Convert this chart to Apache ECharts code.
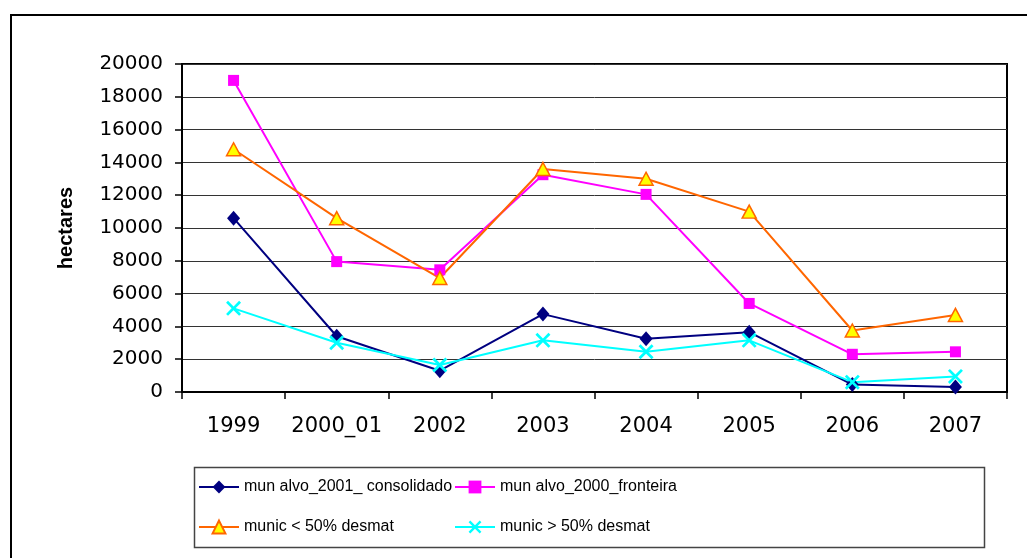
<!DOCTYPE html>
<html>
<head>
<meta charset="utf-8">
<script src="https://cdn.jsdelivr.net/npm/echarts@6/dist/echarts.min.js"></script>
<style>
html,body{margin:0;padding:0;background:#fff;}
#chart{width:1027px;height:558px;}
</style>
</head>
<body>
<div id="chart"></div>
<script>
var categories = ['1999', '2000_01', '2002', '2003', '2004', '2005', '2006', '2007'];
var yTicks = [0, 2000, 4000, 6000, 8000, 10000, 12000, 14000, 16000, 18000, 20000];
var seriesNames = ['mun alvo_2001_ consolidado', 'mun alvo_2000_fronteira', 'munic < 50% desmat', 'munic > 50% desmat'];
var consolidado = [10600, 3400, 1300, 4750, 3250, 3650, 450, 300];
var fronteira = [19000, 7950, 7450, 13250, 12050, 5400, 2300, 2450];
var menos50 = [14800, 10600, 6950, 13600, 13000, 11000, 3750, 4700];
var mais50 = [5100, 3000, 1650, 3150, 2450, 3150, 600, 950];

var xPath = 'path://M0,1.3 L1.3,0 L5,3.7 L8.7,0 L10,1.3 L6.3,5 L10,8.7 L8.7,10 L5,6.3 L1.3,10 L0,8.7 L3.7,5 Z';
var FONT = 'DejaVu Sans';
var LFONT = '"Liberation Sans", Arial';

var chart = echarts.init(document.getElementById('chart'), null, {renderer: 'canvas'});
chart.setOption({
  animation: false,
  backgroundColor: '#fff',
  graphic: [
    {type: 'rect', z: -10, shape: {x: 11, y: 15, width: 1200, height: 700},
     style: {fill: 'none', stroke: '#000', lineWidth: 2}},
    {type: 'rect', z: -5, shape: {x: 194.5, y: 467.5, width: 790, height: 80},
     style: {fill: '#fff', stroke: '#444', lineWidth: 1.5}}
  ],
  grid: {left: 182, top: 64, right: 20, bottom: 166, show: true, borderColor: '#000', borderWidth: 2, backgroundColor: 'transparent'},
  legend: [
    {data: [seriesNames[0], seriesNames[2]], orient: 'vertical', left: 193, top: 474, itemWidth: 40, itemHeight: 16, itemGap: 24,
     textStyle: {fontFamily: LFONT, fontSize: 16, color: '#000'}, z: 10},
    {data: [seriesNames[1], seriesNames[3]], orient: 'vertical', left: 449, top: 474, itemWidth: 40, itemHeight: 16, itemGap: 24,
     textStyle: {fontFamily: LFONT, fontSize: 16, color: '#000'}, z: 10}
  ],
  xAxis: {
    type: 'category', data: categories, boundaryGap: true,
    axisLine: {lineStyle: {color: '#000', width: 2}},
    axisTick: {show: true, length: 7, interval: 0, lineStyle: {color: '#000', width: 1.5}},
    axisLabel: {fontFamily: FONT, fontSize: 21, color: '#000', margin: 24, interval: 0},
    splitLine: {show: false}
  },
  yAxis: {
    type: 'value', min: yTicks[0], max: yTicks[yTicks.length - 1], interval: yTicks[1] - yTicks[0],
    name: 'hectares', nameLocation: 'middle', nameRotate: 90, nameGap: 106,
    nameTextStyle: {fontFamily: 'Liberation Sans', fontWeight: 'bold', fontSize: 20, color: '#000'},
    axisLine: {show: true, lineStyle: {color: '#000', width: 2}},
    axisTick: {show: true, length: 7, lineStyle: {color: '#000', width: 1.5}},
    axisLabel: {fontFamily: FONT, fontSize: 20, color: '#000', margin: 19, formatter: function (v) { return String(v); }},
    splitLine: {show: true, lineStyle: {color: '#333', width: 1}}
  },
  series: [
    {name: seriesNames[0], type: 'line', data: consolidado, symbol: 'diamond', symbolSize: [13, 15],
     lineStyle: {color: '#000080', width: 2}, itemStyle: {color: '#000080'}},
    {name: seriesNames[1], type: 'line', data: fronteira, symbol: 'rect', symbolSize: 11,
     lineStyle: {color: '#FF00FF', width: 2}, itemStyle: {color: '#FF00FF'}},
    {name: seriesNames[2], type: 'line', data: menos50, symbol: 'triangle', symbolSize: [14, 13],
     lineStyle: {color: '#FF6600', width: 2}, itemStyle: {color: '#FFFF00', borderColor: '#FF6600', borderWidth: 1.5}},
    {name: seriesNames[3], type: 'line', data: mais50, symbol: xPath, symbolSize: 15,
     lineStyle: {color: '#00FFFF', width: 2}, itemStyle: {color: '#00FFFF'}}
  ]
});
</script>
</body>
</html>
